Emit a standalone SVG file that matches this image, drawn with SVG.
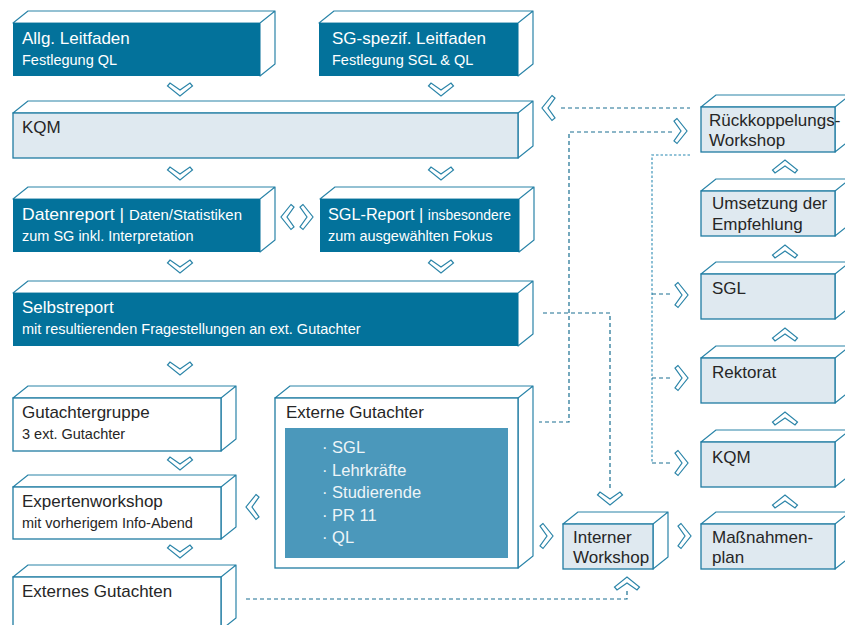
<svg xmlns="http://www.w3.org/2000/svg" width="845" height="625" viewBox="0 0 845 625">
<style>
.face{fill:#fff;stroke:#2a84a8;stroke-width:1.2;stroke-linejoin:round}
.dark{fill:#03729b}
.light{fill:#dfe9f0;stroke:#1f7ca2;stroke-width:1.3}
.wbox{fill:#fff;stroke:#1f7ca2;stroke-width:1.3}
.inner{fill:#4b98bb}
text{font-family:"Liberation Sans",Arial,sans-serif}
.tw{fill:#fff;font-size:17px}
.sw{fill:#fff;font-size:14.5px}
.td{fill:#262626;font-size:17px}
.sd{fill:#262626;font-size:14.5px}
.bl{fill:#eef5f8;font-size:16.5px}
.chev{fill:#fff;stroke:#2a84a8;stroke-width:1.2;stroke-linejoin:miter}
.dash{fill:none;stroke:#1a6f91;stroke-width:1.2;stroke-dasharray:4 3}
.dot{fill:none;stroke:#6fb0cb;stroke-width:1.6;stroke-dasharray:2.5 2}
</style>
<defs>
<path id="cd" class="chev" d="M-12.5,3 L-10,0 L0,7 L10,0 L12.5,3 L0,13 Z"/>
<path id="cu" class="chev" d="M-12.5,10 L-10,13 L0,6 L10,13 L12.5,10 L0,0 Z"/>
<path id="cr" class="chev" d="M3,-12.5 L0,-10 L7,0 L0,10 L3,12.5 L13,0 Z"/>
<path id="cl" class="chev" d="M10,-12.5 L13,-10 L6,0 L13,10 L10,12.5 L0,0 Z"/>
</defs>

<g id="connectors">
<path class="dash" d="M561,108 H690"/>
<path class="dash" d="M672,132 H569 V422 H539"/>
<path class="dash" d="M543,313 H610 V489"/>
<path class="dot" d="M690,155 H652 V463"/>
<path class="dash" d="M652,294 H672 M652,378 H672 M652,463 H672"/>
<path class="dash" d="M246,599 H627 V591"/>
<use href="#cd" x="180" y="83"/>
<use href="#cd" x="441" y="83"/>
<use href="#cd" x="180" y="167"/>
<use href="#cd" x="441" y="167"/>
<use href="#cd" x="180" y="260"/>
<use href="#cd" x="441" y="260"/>
<use href="#cd" x="180" y="362"/>
<use href="#cd" x="180" y="457"/>
<use href="#cd" x="180" y="545"/>
<use href="#cd" x="610" y="492"/>
<use href="#cu" x="627" y="577"/>
<use href="#cu" x="785" y="495"/>
<use href="#cu" x="785" y="412"/>
<use href="#cu" x="785" y="328"/>
<use href="#cu" x="785" y="245"/>
<use href="#cu" x="785" y="160"/>
<use href="#cl" x="542" y="108"/>
<use href="#cl" x="281" y="217"/>
<use href="#cr" x="300" y="217"/>
<use href="#cl" x="246" y="507"/>
<use href="#cr" x="674" y="131"/>
<use href="#cr" x="675" y="295"/>
<use href="#cr" x="675" y="378"/>
<use href="#cr" x="675" y="463"/>
<use href="#cr" x="540" y="536"/>
<use href="#cr" x="678" y="536"/>
</g>

<g id="allg-leitfaden">
<path class="face" d="M13,23 L28,11 H275 L260,23 Z M260,23 L275,11 V64 L260,76 Z"/>
<rect class="dark" x="13" y="23" width="247" height="53"/>
<text class="tw" x="22" y="44">Allg. Leitfaden</text>
<text class="sw" x="22" y="65">Festlegung QL</text>
</g>

<g id="sg-leitfaden">
<path class="face" d="M319,23 L334,11 H533 L518,23 Z M518,23 L533,11 V64 L518,76 Z"/>
<rect class="dark" x="319" y="23" width="199" height="53"/>
<text class="tw" x="332" y="44">SG-spezif. Leitfaden</text>
<text class="sw" x="332" y="65">Festlegung SGL &amp; QL</text>
</g>

<g id="kqm-top">
<path class="face" d="M13,113 L28,101 H533 L518,113 Z M518,113 L533,101 V146 L518,158 Z"/>
<rect class="light" x="13" y="113" width="505" height="45"/>
<text class="td" x="22" y="133">KQM</text>
</g>

<g id="datenreport">
<path class="face" d="M13,199 L28,187 H275 L260,199 Z M260,199 L275,187 V240 L260,252 Z"/>
<rect class="dark" x="13" y="199" width="247" height="53"/>
<text class="tw" x="22" y="220" textLength="220" lengthAdjust="spacingAndGlyphs">Datenreport | <tspan class="sw">Daten/Statistiken</tspan></text>
<text class="sw" x="22" y="241">zum SG inkl. Interpretation</text>
</g>

<g id="sgl-report">
<path class="face" d="M320,199 L335,187 H534 L519,199 Z M519,199 L534,187 V240 L519,252 Z"/>
<rect class="dark" x="320" y="199" width="199" height="53"/>
<text class="tw" x="328" y="220" textLength="183" lengthAdjust="spacingAndGlyphs">SGL-Report | <tspan class="sw">insbesondere</tspan></text>
<text class="sw" x="328" y="241">zum ausgewählten Fokus</text>
</g>

<g id="selbstreport">
<path class="face" d="M13,293 L28,281 H533 L518,293 Z M518,293 L533,281 V334 L518,346 Z"/>
<rect class="dark" x="13" y="293" width="505" height="53"/>
<text class="tw" x="22" y="313">Selbstreport</text>
<text class="sw" x="22" y="334">mit resultierenden Fragestellungen an ext. Gutachter</text>
</g>

<g id="gutachtergruppe">
<path class="face" d="M13,398 L28,386 H236 L221,398 Z M221,398 L236,386 V439 L221,451 Z"/>
<rect class="wbox" x="13" y="398" width="208" height="53"/>
<text class="td" x="22" y="418">Gutachtergruppe</text>
<text class="sd" x="22" y="439">3 ext. Gutachter</text>
</g>

<g id="expertenworkshop">
<path class="face" d="M13,487 L28,475 H236 L221,487 Z M221,487 L236,475 V527 L221,539 Z"/>
<rect class="wbox" x="13" y="487" width="208" height="52"/>
<text class="td" x="22" y="507">Expertenworkshop</text>
<text class="sd" x="22" y="528">mit vorherigem Info-Abend</text>
</g>

<g id="externes-gutachten">
<path class="face" d="M13,577 L28,565 H236 L221,577 Z M221,577 L236,565 V618 L221,630 Z"/>
<rect class="wbox" x="13" y="577" width="208" height="60"/>
<text class="td" x="22" y="597">Externes Gutachten</text>
</g>

<g id="externe-gutachter">
<path class="face" d="M275,398 L290,386 H533 L518,398 Z M518,398 L533,386 V556 L518,568 Z"/>
<rect class="wbox" x="275" y="398" width="243" height="170"/>
<text class="td" x="286" y="418">Externe Gutachter</text>
<rect class="inner" x="285" y="428" width="223" height="130"/>
<text class="bl" x="322" y="453">· SGL</text>
<text class="bl" x="322" y="476">· Lehrkräfte</text>
<text class="bl" x="322" y="498">· Studierende</text>
<text class="bl" x="322" y="521">· PR 11</text>
<text class="bl" x="322" y="543">· QL</text>
</g>

<g id="interner-workshop">
<path class="face" d="M563,524 L578,512 H668 L653,524 Z M653,524 L668,512 V557 L653,569 Z"/>
<rect class="light" x="563" y="524" width="90" height="45"/>
<text class="td" x="573" y="543">Interner</text>
<text class="td" x="573" y="563">Workshop</text>
</g>

<g id="massnahmenplan">
<path class="face" d="M701,524 L716,512 H850 L835,524 Z M835,524 L850,512 V557 L835,569 Z"/>
<rect class="light" x="701" y="524" width="134" height="45"/>
<text class="td" x="712" y="543">Maßnahmen-</text>
<text class="td" x="712" y="563">plan</text>
</g>

<g id="kqm-right">
<path class="face" d="M701,442 L716,430 H850 L835,442 Z M835,442 L850,430 V475 L835,487 Z"/>
<rect class="light" x="701" y="442" width="134" height="45"/>
<text class="td" x="712" y="463">KQM</text>
</g>

<g id="rektorat">
<path class="face" d="M701,358 L716,346 H850 L835,358 Z M835,358 L850,346 V391 L835,403 Z"/>
<rect class="light" x="701" y="358" width="134" height="45"/>
<text class="td" x="712" y="378">Rektorat</text>
</g>

<g id="sgl">
<path class="face" d="M701,274 L716,262 H850 L835,274 Z M835,274 L850,262 V307 L835,319 Z"/>
<rect class="light" x="701" y="274" width="134" height="45"/>
<text class="td" x="712" y="294">SGL</text>
</g>

<g id="umsetzung">
<path class="face" d="M701,191 L716,179 H850 L835,191 Z M835,191 L850,179 V224 L835,236 Z"/>
<rect class="light" x="701" y="191" width="134" height="45"/>
<text class="td" x="712" y="209">Umsetzung der</text>
<text class="td" x="712" y="230">Empfehlung</text>
</g>

<g id="rueckkoppelung">
<path class="face" d="M701,107 L716,95 H850 L835,107 Z M835,107 L850,95 V140 L835,152 Z"/>
<rect class="light" x="701" y="107" width="134" height="45"/>
<text class="td" x="709" y="126">Rückkoppelungs-</text>
<text class="td" x="709" y="146">Workshop</text>
</g>
</svg>
